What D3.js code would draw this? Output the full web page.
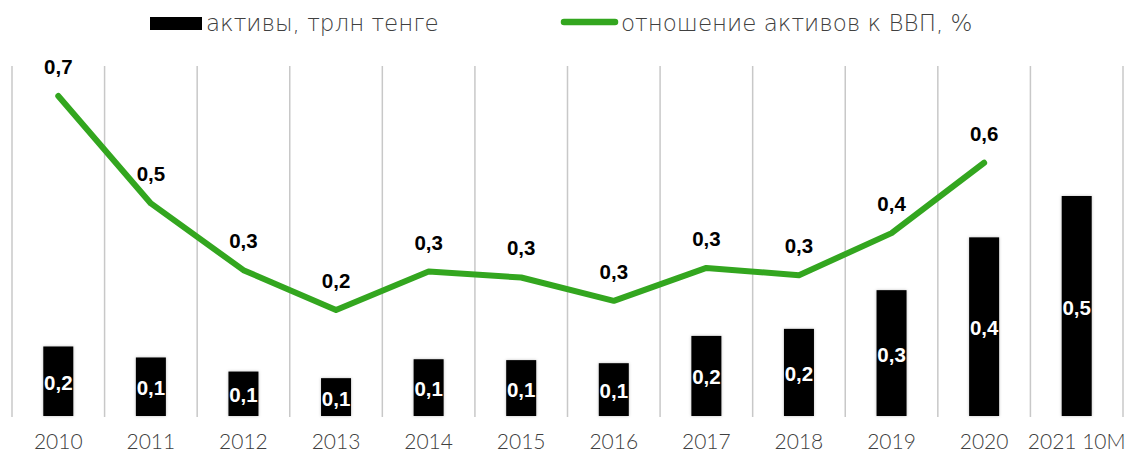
<!DOCTYPE html>
<html><head><meta charset="utf-8">
<script src="https://cdn.jsdelivr.net/npm/d3@7"></script>
<style>
html,body{margin:0;padding:0;background:#fff;}
svg{display:block;}
</style></head>
<body>
<svg id="chart" width="1126" height="452"></svg>
<script>
const categories = ["2010","2011","2012","2013","2014","2015","2016","2017","2018","2019","2020","2021 10M"];
const assets = [0.158,0.133,0.101,0.086,0.129,0.127,0.120,0.182,0.198,0.286,0.406,0.50];
const assetsToGdp = [0.70,0.465,0.319,0.232,0.316,0.303,0.252,0.324,0.308,0.400,0.554,null];
const legendLabels = ["активы, трлн тенге","отношение активов к ВВП, %"];

(function(){
const svg = d3.select("#chart");
const pLeft = 12, pRight = 1123, pTop = 66, pBottom = 416;
const green = "#33a61f";
const fmt = v => d3.format(".1f")(v).replace(".", ",");

const x = d3.scaleBand().domain(categories).range([pLeft, pRight]).paddingInner(0).paddingOuter(0);
const yBar = d3.scaleLinear().domain([0, 0.8]).range([pBottom, pBottom - 352]);
const yLine = d3.scaleLinear().domain([0, 0.77]).range([pBottom, pBottom - 352]);
const barW = 30;

const defs = svg.append("defs");
const f = defs.append("filter").attr("id","sh").attr("x","-30%").attr("y","-30%").attr("width","160%").attr("height","160%");
f.append("feDropShadow").attr("dx",0).attr("dy",0).attr("stdDeviation",1.5).attr("flood-color","#000").attr("flood-opacity",0.25);

// gridlines
const gx = categories.map(c => x(c)).concat([pRight]);
svg.append("g").selectAll("line").data(gx).join("line")
  .attr("x1", d => d).attr("x2", d => d)
  .attr("y1", pTop).attr("y2", pBottom + 1)
  .attr("stroke", "#c8c8c8").attr("stroke-width", 1.5);

// bars
const cx = c => x(c) + x.bandwidth() / 2;
svg.append("g").selectAll("rect").data(categories).join("rect")
  .attr("x", c => cx(c) - barW / 2)
  .attr("y", (c, i) => yBar(assets[i]))
  .attr("width", barW)
  .attr("height", (c, i) => pBottom - yBar(assets[i]))
  .attr("fill", "#000")
  .attr("filter", "url(#sh)");

svg.append("g").selectAll("text").data(categories).join("text")
  .attr("x", c => cx(c))
  .attr("y", (c, i) => (yBar(assets[i]) + pBottom) / 2 + 8.5)
  .attr("text-anchor", "middle")
  .attr("font-family", "Liberation Sans, Arial, sans-serif")
  .attr("font-weight", "bold")
  .attr("font-size", 20.5)
  .attr("fill", "#fff")
  .text((c, i) => fmt(assets[i]));

// line
const lineData = categories.map((c, i) => ({c, v: assetsToGdp[i]})).filter(d => d.v != null);
const line = d3.line().x(d => cx(d.c)).y(d => yLine(d.v));
svg.append("path").datum(lineData)
  .attr("d", line)
  .attr("fill", "none")
  .attr("stroke", green)
  .attr("stroke-width", 6)
  .attr("stroke-linejoin", "round")
  .attr("stroke-linecap", "round");

svg.append("g").selectAll("text").data(lineData).join("text")
  .attr("x", d => cx(d.c))
  .attr("y", d => yLine(d.v) - 22)
  .attr("text-anchor", "middle")
  .attr("font-family", "Liberation Sans, Arial, sans-serif")
  .attr("font-weight", "bold")
  .attr("font-size", 20.5)
  .attr("fill", "#000")
  .text(d => fmt(d.v));

// x axis labels
svg.append("g").selectAll("text").data(categories).join("text")
  .attr("x", c => cx(c))
  .attr("y", 449)
  .attr("text-anchor", "middle")
  .attr("font-family", "Lato, sans-serif")
  .attr("font-weight", 300)
  .attr("font-size", 21)
  .attr("fill", "#404040")
  .text(c => c);

// legend
const lg = svg.append("g");
lg.append("rect").attr("x", 150).attr("y", 17).attr("width", 52).attr("height", 13).attr("fill", "#000");
lg.append("text").attr("x", 206).attr("y", 31)
  .attr("font-family", "DejaVu Sans, sans-serif").attr("font-weight", 200).attr("font-size", 23)
  .attr("fill", "#404040").text(legendLabels[0]);
lg.append("line").attr("x1", 564).attr("x2", 615).attr("y1", 22).attr("y2", 22)
  .attr("stroke", green).attr("stroke-width", 6.5).attr("stroke-linecap", "round");
lg.append("text").attr("x", 621).attr("y", 31)
  .attr("font-family", "DejaVu Sans, sans-serif").attr("font-weight", 200).attr("font-size", 23)
  .attr("fill", "#404040").text(legendLabels[1]);
})();
</script>
</body></html>
